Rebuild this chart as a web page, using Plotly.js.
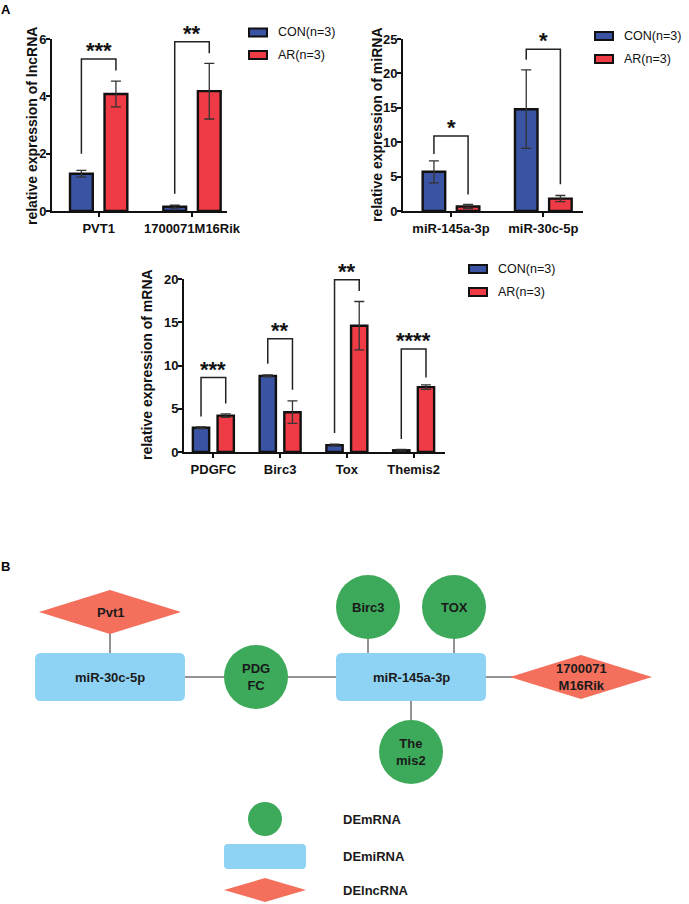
<!DOCTYPE html>
<html><head><meta charset="utf-8">
<script src="https://cdn.plot.ly/plotly-3.0.1.min.js"></script>
<style>body{margin:0;padding:0;background:#fff}#chart{width:689px;height:904px}</style>
</head><body><div id="chart"></div>
<script>
// ---------- DATA ----------
const groups = ['CON(n=3)', 'AR(n=3)'];

const lncCats = ['PVT1', '1700071M16Rik'];
const lncCON = [1.3, 0.15];
const lncCONerr = [0.12, 0.05];
const lncAR = [4.08, 4.18];
const lncARerr = [0.45, 0.97];
const lncSig = ['***', '**'];
const lncBrTop = [5.3, 5.9];
const lncBrL = [2.0, 0.6];
const lncBrR = [4.9, 5.5];

const miCats = ['miR-145a-3p', 'miR-30c-5p'];
const miCON = [5.7, 14.8];
const miCONerr = [1.6, 5.7];
const miAR = [0.65, 1.8];
const miARerr = [0.3, 0.45];
const miSig = ['*', '*'];
const miBrTop = [10.9, 23.5];
const miBrL = [8.3, 22.0];
const miBrR = [2.4, 3.9];

const mCats = ['PDGFC', 'Birc3', 'Tox', 'Themis2'];
const mCON = [2.8, 8.8, 0.8, 0.2];
const mCONerr = [0.1, 0.1, 0.1, 0.1];
const mAR = [4.2, 4.6, 14.6, 7.5];
const mARerr = [0.2, 1.3, 2.8, 0.25];
const mSig = ['***', '**', '**', '****'];
const mBrTop = [8.6, 13.1, 19.9, 11.9];
const mBrL = [4.1, 10.2, 2.2, 1.5];
const mBrR = [5.6, 7.2, 18.6, 8.6];

const yTitles = ['relative expression of lncRNA', 'relative expression of miRNA', 'relative expression of mRNA'];

// network
const nodeNames = ['Pvt1', 'miR-30c-5p', 'PDGFC', 'miR-145a-3p', 'Birc3', 'TOX', 'Themis2', '1700071M16Rik'];
const nodeLabels = ['Pvt1', 'miR-30c-5p', 'PDG<br>FC', 'miR-145a-3p', 'Birc3', 'TOX', 'The<br>mis2', '1700071<br>M16Rik'];
const nodeTypes = ['lncRNA', 'miRNA', 'mRNA', 'miRNA', 'mRNA', 'mRNA', 'mRNA', 'lncRNA'];
const edges = [['Pvt1', 'miR-30c-5p'], ['PDGFC', 'miR-30c-5p'], ['PDGFC', 'miR-145a-3p'], ['Birc3', 'miR-145a-3p'], ['TOX', 'miR-145a-3p'], ['Themis2', 'miR-145a-3p'], ['1700071M16Rik', 'miR-145a-3p']];
const legendTypes = ['mRNA', 'miRNA', 'lncRNA'];
const legendLabels = ['DEmRNA', 'DEmiRNA', 'DElncRNA'];

// ---------- LAYOUT HELPERS ----------
const W = 689, H = 904;
const px = x => x / W;
const py = y => 1 - y / H;
const FONT = 'Liberation Sans, Arial, sans-serif';
const COL = ['#3A53A3', '#EF3B45'];
const typeColor = {mRNA: '#3DA95A', miRNA: '#8ED3F4', lncRNA: '#F4705D'};

// pixel positions of network nodes
const nodePos = {
  'Pvt1': [110, 612], 'miR-30c-5p': [110, 677], 'PDGFC': [256, 677], 'miR-145a-3p': [411, 677],
  'Birc3': [368, 607], 'TOX': [454, 607], 'Themis2': [411, 752], '1700071M16Rik': [581, 677]
};
const sizeOf = {mRNA: [32, 32], miRNA: [75, 24], lncRNA: [71, 22]};

const traces = [];
const shapes = [];
const annotations = [];

function addBarChart(k, cats, con, conErr, ar, arErr, sig, brTop, brL, brR) {
  const xa = k === 1 ? 'x' : 'x' + k, ya = k === 1 ? 'y' : 'y' + k;
  const xs = cats.map((c, i) => i);
  [[con, conErr], [ar, arErr]].forEach((d, g) => {
    traces.push({
      type: 'bar', x: xs, y: d[0], xaxis: xa, yaxis: ya, name: groups[g], showlegend: false,
      marker: {color: COL[g], line: {color: '#111111', width: 2.4}},
      error_y: {type: 'data', array: d[1], visible: true, color: '#333', thickness: 1.3, width: 5}
    });
  });
  const half = 0.185;
  xs.forEach((i) => {
    const l = i - half, r = i + half;
    shapes.push({type: 'path', xref: xa, yref: ya,
      path: `M${l},${brL[i]} L${l},${brTop[i]} L${r},${brTop[i]} L${r},${brR[i]}`,
      line: {color: '#222', width: 1.5}});
    annotations.push({xref: xa, yref: ya, x: i, y: brTop[i], text: sig[i], showarrow: false,
      xanchor: 'center', yanchor: 'bottom', yshift: -6, font: {family: FONT, size: 22, weight: 'bold', color: '#111'}});
  });
}
addBarChart(1, lncCats, lncCON, lncCONerr, lncAR, lncARerr, lncSig, lncBrTop, lncBrL, lncBrR);
addBarChart(2, miCats, miCON, miCONerr, miAR, miARerr, miSig, miBrTop, miBrL, miBrR);
addBarChart(3, mCats, mCON, mCONerr, mAR, mARerr, mSig, mBrTop, mBrL, mBrR);

// y titles (placed at pixel positions beside each axis)
const yTitlePos = [[32, 126], [377, 125], [147, 365]];
yTitles.forEach((t, i) => {
  annotations.push({xref: 'paper', yref: 'paper', x: px(yTitlePos[i][0]), y: py(yTitlePos[i][1]), text: t,
    textangle: -90, showarrow: false, xanchor: 'center', yanchor: 'middle',
    font: {family: FONT, size: 14, weight: 'bold', color: '#111'}});
});

// chart legends (drawn)
function addLegend(x, y0, dy) {
  groups.forEach((g, i) => {
    const y = y0 + i * dy;
    shapes.push({type: 'rect', xref: 'paper', yref: 'paper', x0: px(x), x1: px(x + 18), y0: py(y - 4), y1: py(y + 4),
      fillcolor: COL[i], line: {color: '#111', width: 2}});
    annotations.push({xref: 'paper', yref: 'paper', x: px(x + 27), y: py(y), text: g, showarrow: false,
      xanchor: 'left', yanchor: 'middle', font: {family: FONT, size: 12.5, color: '#111'}});
  });
}
addLegend(249, 32.5, 22.5);
addLegend(595, 36, 23);
addLegend(469, 269, 23);

// panel letters
annotations.push({xref: 'paper', yref: 'paper', x: px(6), y: py(9), text: 'A', showarrow: false,
  xanchor: 'center', yanchor: 'middle', font: {family: FONT, size: 13, weight: 'bold', color: '#000'}});
annotations.push({xref: 'paper', yref: 'paper', x: px(5), y: py(566), text: 'B', showarrow: false,
  xanchor: 'center', yanchor: 'middle', font: {family: FONT, size: 13, weight: 'bold', color: '#000'}});

// ---------- NETWORK ----------
function rrect(x0, y0, x1, y1, r) {
  return `M${px(x0 + r)},${py(y0)} L${px(x1 - r)},${py(y0)} Q${px(x1)},${py(y0)} ${px(x1)},${py(y0 + r)} ` +
    `L${px(x1)},${py(y1 - r)} Q${px(x1)},${py(y1)} ${px(x1 - r)},${py(y1)} L${px(x0 + r)},${py(y1)} ` +
    `Q${px(x0)},${py(y1)} ${px(x0)},${py(y1 - r)} L${px(x0)},${py(y0 + r)} Q${px(x0)},${py(y0)} ${px(x0 + r)},${py(y0)} Z`;
}
function nodeShape(type, cx, cy, sz, r) {
  const [a, b] = sz;
  const c = typeColor[type];
  if (type === 'mRNA') return {type: 'circle', xref: 'paper', yref: 'paper', x0: px(cx - a), x1: px(cx + a), y0: py(cy - b), y1: py(cy + b), fillcolor: c, line: {width: 0}};
  if (type === 'miRNA') return {type: 'path', xref: 'paper', yref: 'paper', path: rrect(cx - a, cy - b, cx + a, cy + b, r || 6), fillcolor: c, line: {width: 0}};
  return {type: 'path', xref: 'paper', yref: 'paper',
    path: `M${px(cx - a)},${py(cy)} L${px(cx)},${py(cy - b)} L${px(cx + a)},${py(cy)} L${px(cx)},${py(cy + b)} Z`, fillcolor: c, line: {width: 0}};
}
// edges
edges.forEach(([s, t]) => {
  const [sx, sy] = nodePos[s], [tx, ty] = nodePos[t];
  const hw = sizeOf[nodeTypes[nodeNames.indexOf(t)]][0];
  let x1, y1;
  if (Math.abs(sx - tx) < hw) { x1 = sx; y1 = ty; } else { x1 = tx; y1 = sy; }
  shapes.push({type: 'line', xref: 'paper', yref: 'paper', x0: px(sx), y0: py(sy), x1: px(x1), y1: py(y1),
    line: {color: '#939393', width: 2}});
});
nodeNames.forEach((n, i) => {
  const [cx, cy] = nodePos[n];
  const t = nodeTypes[i];
  shapes.push(nodeShape(t, cx, cy, sizeOf[t]));
  annotations.push({xref: 'paper', yref: 'paper', x: px(cx), y: py(cy), text: nodeLabels[i], showarrow: false,
    xanchor: 'center', yanchor: 'middle',
    font: {family: FONT, size: 13, weight: 'bold', color: '#1a1a1a'}});
});
// network legend
const legPos = [[265, 819], [265, 856.5], [265, 890]];
const legSize = {mRNA: [17, 17], miRNA: [41, 12.5], lncRNA: [41, 12]};
legendTypes.forEach((t, i) => {
  const [cx, cy] = legPos[i];
  shapes.push(nodeShape(t, cx, cy, legSize[t], 4));
  annotations.push({xref: 'paper', yref: 'paper', x: px(341), y: py(cy), text: legendLabels[i], showarrow: false,
    xanchor: 'left', yanchor: 'middle', font: {family: FONT, size: 13, weight: 'bold', color: '#1a1a1a'}});
});

// ---------- AXES ----------
function xAxis(dom, rng, cats, anchor) {
  return {domain: [px(dom[0]), px(dom[1])], range: rng, tickvals: cats.map((c, i) => i), ticktext: cats,
    anchor: anchor, showline: true, linecolor: '#111', linewidth: 2, ticks: 'outside', ticklen: 4, tickwidth: 2,
    tickcolor: '#111', showgrid: false, zeroline: false, fixedrange: true,
    tickfont: {family: FONT, size: 13, weight: 'bold', color: '#111'}};
}
function yAxis(dom, rng, dtick, anchor) {
  return {domain: [py(dom[0]), py(dom[1])], range: rng, dtick: dtick, anchor: anchor, showline: true,
    linecolor: '#111', linewidth: 2, ticks: 'outside', ticklen: 4, tickwidth: 2, tickcolor: '#111',
    ticklabelstandoff: -3,
    showgrid: false, zeroline: false, fixedrange: true,
    tickfont: {family: FONT, size: 13, weight: 'bold', color: '#111'}};
}

const layout = {
  width: W, height: H, margin: {l: 0, r: 0, t: 0, b: 0}, paper_bgcolor: '#fff', plot_bgcolor: 'rgba(0,0,0,0)',
  barmode: 'group', bargap: 0.26, bargroupgap: 0.34, showlegend: false,
  xaxis: xAxis([52, 227], [-0.5, 1.375], lncCats, 'y'),
  yaxis: yAxis([211, 39], [0, 6], 2, 'x'),
  xaxis2: xAxis([403, 583], [-0.52, 1.43], miCats, 'y2'),
  yaxis2: yAxis([211, 39], [0, 25], 5, 'x2'),
  xaxis3: xAxis([184, 445], [-0.44, 3.47], mCats, 'y3'),
  yaxis3: yAxis([452, 279], [0, 20], 5, 'x3'),
  shapes: shapes, annotations: annotations
};

Plotly.newPlot('chart', traces, layout, {displayModeBar: false, staticPlot: true});
</script></body></html>
